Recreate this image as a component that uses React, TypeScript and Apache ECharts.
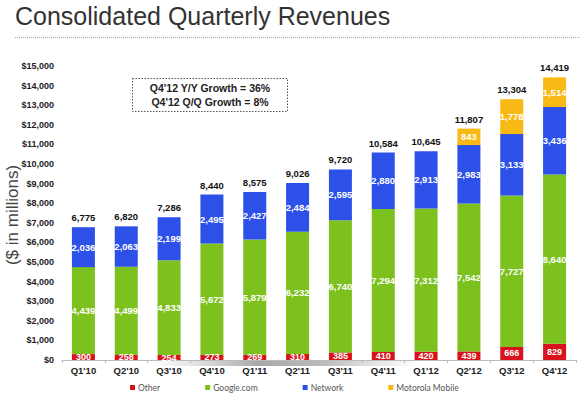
import React, { useEffect, useRef } from "react";
import * as echarts from "echarts";

const categories = ["Q1'10", "Q2'10", "Q3'10", "Q4'10", "Q1'11", "Q2'11", "Q3'11", "Q4'11", "Q1'12", "Q2'12", "Q3'12", "Q4'12"];
const other = [300, 258, 254, 273, 269, 310, 385, 410, 420, 439, 666, 829];
const google = [4439, 4499, 4833, 5672, 5879, 6232, 6740, 7294, 7312, 7542, 7727, 8640];
const network = [2036, 2063, 2199, 2495, 2427, 2484, 2595, 2880, 2913, 2983, 3133, 3436];
const motorola: (number | null)[] = [null, null, null, null, null, null, null, null, null, 843, 1778, 1514];
const totals = [6775, 6820, 7286, 8440, 8575, 9026, 9720, 10584, 10645, 11807, 13304, 14419];
const annotationLines = ["Q4'12 Y/Y Growth = 36%", "Q4'12 Q/Q Growth = 8%"];

const fmt = (v: number) => v.toLocaleString("en-US");
const FONT = "Liberation Sans, Arial, sans-serif";

export default function App() {
  const ref = useRef<HTMLDivElement>(null);
  useEffect(() => {
    if (!ref.current) return;
    const chart = echarts.init(ref.current, null, { renderer: "svg" });
    const inLabel = (size: number) => ({
      show: true,
      position: "inside" as const,
      color: "#fff",
      fontWeight: "bold" as const,
      fontSize: size,
      fontFamily: FONT,
      formatter: (p: any) => (p.value == null ? "" : fmt(p.value)),
    });
    chart.setOption({
      animation: false,
      backgroundColor: "#fff",
      grid: { left: 62, right: 4, top: 66, bottom: 36 },
      legend: {
        left: 125,
        top: 378,
        itemGap: 45,
        itemWidth: 5,
        itemHeight: 5,
        icon: "rect",
        textStyle: { fontSize: 8.5, color: "#555", fontFamily: "Lato, sans-serif", padding: [0, 0, 0, -2] },
        data: ["Other", "Google.com", "Network", "Motorola Mobile"],
      },
      xAxis: {
        type: "category",
        data: categories,
        axisLine: { lineStyle: { color: "#bbb", width: 1 } },
        axisTick: { show: true, length: 3, lineStyle: { color: "#bbb" } },
        axisLabel: { color: "#222", fontWeight: "bold", fontSize: 9.5, fontFamily: FONT, margin: 5 },
      },
      yAxis: {
        type: "value",
        min: 0,
        max: 15000,
        interval: 1000,
        splitLine: { show: false },
        axisLine: { show: false },
        axisTick: { show: false },
        axisLabel: {
          color: "#222",
          fontWeight: "bold",
          fontSize: 9,
          fontFamily: FONT,
          margin: 8,
          formatter: (v: number) => "$" + fmt(v),
        },
      },
      series: [
        { name: "Other", type: "bar", stack: "t", barWidth: 23, data: other, itemStyle: { color: "#d8131b" }, label: inLabel(9) },
        { name: "Google.com", type: "bar", stack: "t", barWidth: 23, data: google, itemStyle: { color: "#7dc11f" }, label: inLabel(9.5) },
        { name: "Network", type: "bar", stack: "t", barWidth: 23, data: network, itemStyle: { color: "#2d50e8" }, label: inLabel(9.5) },
        { name: "Motorola Mobile", type: "bar", stack: "t", barWidth: 23, data: motorola, itemStyle: { color: "#f8b914" }, label: inLabel(9.5) },
        {
          name: "Total",
          type: "line",
          data: totals,
          symbol: "circle",
          symbolSize: 1,
          showSymbol: true,
          itemStyle: { color: "rgba(0,0,0,0)" },
          lineStyle: { opacity: 0 },
          label: {
            show: true,
            position: "top",
            distance: 4,
            color: "#111",
            fontWeight: "bold",
            fontSize: 9.5,
            fontFamily: FONT,
            formatter: (p: any) => fmt(p.value),
          },
          z: 5,
        },
      ],
      graphic: [
        {
          type: "text",
          left: 15,
          top: 3,
          style: { text: "Consolidated Quarterly Revenues", fontSize: 25, fontFamily: FONT, fill: "#333" },
        },
        {
          type: "line",
          shape: { x1: 15, y1: 37.5, x2: 580, y2: 37.5 },
          style: { stroke: "#aaa", lineWidth: 1, lineDash: [1, 1] },
        },
        {
          type: "text",
          x: 12,
          y: 215,
          rotation: Math.PI / 2,
          style: { text: "($ in millions)", fontSize: 17, fontFamily: FONT, fill: "#444", align: "center", verticalAlign: "middle" },
        },
        {
          type: "rect",
          shape: { x: 132.5, y: 78.5, width: 155, height: 33 },
          style: { fill: "none", stroke: "#555", lineWidth: 1, lineDash: [1.5, 1.5] },
        },
        {
          type: "text",
          x: 210,
          y: 88,
          style: { text: annotationLines[0], fontSize: 10.5, fontWeight: "bold", fontFamily: FONT, fill: "#222", align: "center", verticalAlign: "middle" },
        },
        {
          type: "text",
          x: 210,
          y: 102,
          style: { text: annotationLines[1], fontSize: 10.5, fontWeight: "bold", fontFamily: FONT, fill: "#222", align: "center", verticalAlign: "middle" },
        },
        {
          type: "rect",
          shape: { x: 150, y: 361, width: 270, height: 5 },
          style: {
            fill: new echarts.graphic.LinearGradient(0, 0, 1, 0, [
              { offset: 0, color: "rgba(160,160,160,0)" },
              { offset: 0.4, color: "rgba(110,110,110,0.6)" },
              { offset: 0.65, color: "rgba(120,120,120,0.5)" },
              { offset: 1, color: "rgba(160,160,160,0)" },
            ]),
          },
          z: -1,
        },
      ],
    });
    return () => chart.dispose();
  }, []);
  return <div ref={ref} style={{ position: "fixed", left: 0, top: 0, width: 580, height: 396 }} />;
}
